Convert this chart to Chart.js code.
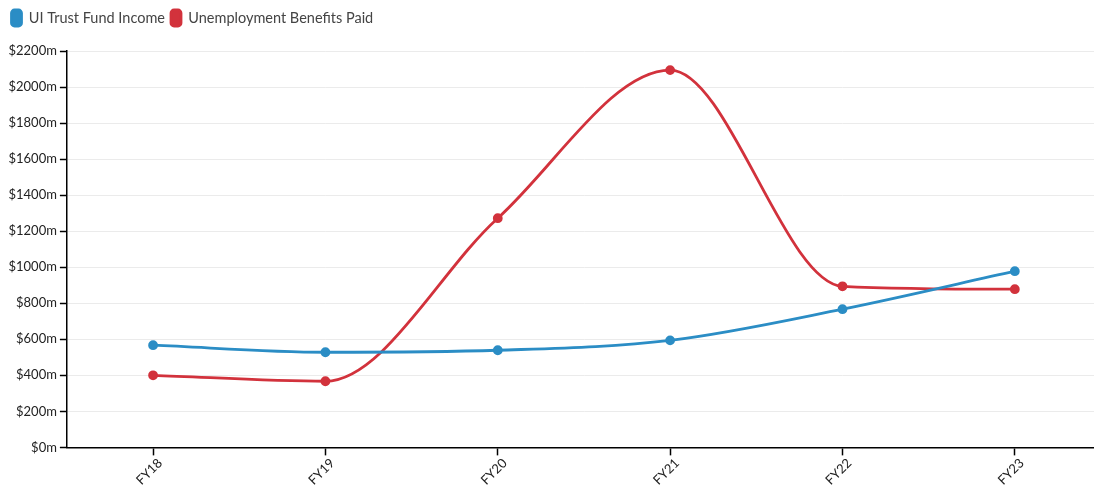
<!DOCTYPE html>
<html><head><meta charset="utf-8">
<script src="https://cdn.jsdelivr.net/npm/chart.js@4"></script>
<style>html,body{margin:0;padding:0;background:#fff;overflow:hidden;width:1094px;height:485px}#wrap{width:1101px;height:485px}</style>
</head><body><div id="wrap"><canvas id="c"></canvas></div>
<script>
const categories = ["FY18","FY19","FY20","FY21","FY22","FY23"];
const trustFundIncome = [567, 528, 539, 594, 767, 978];
const benefitsPaid = [400, 367, 1272, 2094, 894, 878];
const yTickValues = [0,200,400,600,800,1000,1200,1400,1600,1800,2000,2200];

const FONT = "Lato, 'Open Sans', sans-serif";
const legendGap = {
  id: 'legendGap',
  beforeInit(chart) {
    const lg = chart.legend;
    if (!lg) return;
    const fit = lg.fit;
    lg.fit = function () { fit.call(this); this.height += 15; };
  }
};
new Chart(document.getElementById('c'), {
  type: 'line',
  plugins: [legendGap],
  data: {
    labels: categories,
    datasets: [
      {label: 'UI Trust Fund Income', data: trustFundIncome, borderColor: '#2b8dc5', backgroundColor: '#2b8dc5',
       borderWidth: 2.8, pointRadius: 3.5, pointHoverRadius: 3.5, cubicInterpolationMode: 'monotone'},
      {label: 'Unemployment Benefits Paid', data: benefitsPaid, borderColor: '#d2323c', backgroundColor: '#d2323c',
       borderWidth: 2.8, pointRadius: 3.5, pointHoverRadius: 3.5, cubicInterpolationMode: 'monotone'}
    ]
  },
  options: {
    responsive: true, maintainAspectRatio: false, animation: false,
    layout: {autoPadding: false, padding: {left: 5.5, right: 0, top: 4, bottom: -3}},
    plugins: {
      tooltip: {enabled: false},
      legend: {
        align: 'start',
        labels: {boxWidth: 10, boxHeight: 16, useBorderRadius: true, borderRadius: 3, padding: 6,
                 color: '#444', font: {family: FONT, size: 14.5}}
      }
    },
    scales: {
      x: {
        offset: true,
        afterFit: (s) => { s.paddingRight = 0; s.paddingLeft = 0; },
        border: {color: '#000', width: 1.5},
        grid: {drawOnChartArea: false, drawTicks: true, tickLength: 8, tickColor: '#000', tickWidth: 1.5},
        ticks: {minRotation: 45, maxRotation: 45, color: '#222', font: {family: FONT, size: 13}, padding: 0, labelOffset: 7}
      },
      y: {
        min: 0, max: 2200,
        afterBuildTicks: (ax) => { ax.ticks = yTickValues.map(v => ({value: v})); },
        border: {color: '#000', width: 1.5},
        grid: {color: '#ebebeb', lineWidth: 1, tickLength: 7, tickColor: '#000', tickWidth: 1.5},
        ticks: {color: '#222', font: {family: FONT, size: 13}, padding: 3, callback: v => '$' + v + 'm'}
      }
    }
  }
});
</script></body></html>
